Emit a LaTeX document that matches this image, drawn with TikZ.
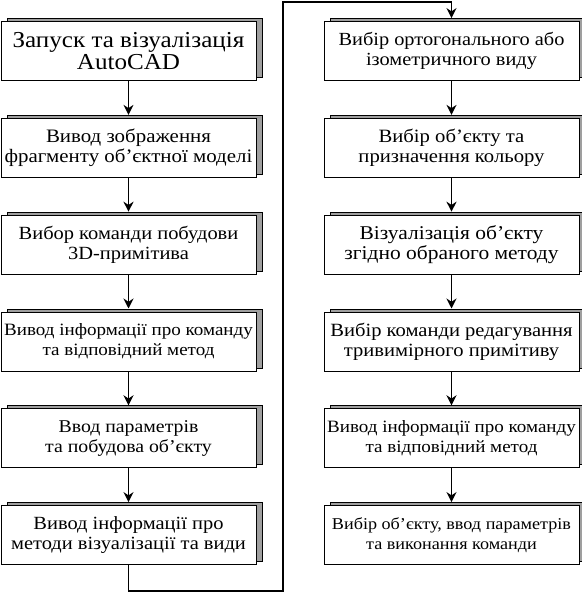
\documentclass[tikz,border=0pt]{standalone}
\usepackage{fontspec}
\setmainfont{Liberation Serif}[FakeStretch=1.1]
\usetikzlibrary{shadows,arrows.meta}
\begin{document}
\begin{tikzpicture}[x=1pt,y=-1pt,
  stepbox/.style={draw=black, line width=0.8pt, fill=white,
    minimum width=255pt, minimum height=59pt, align=center, inner sep=1pt,
    general shadow={draw=black, line width=0.6pt, fill=gray!75,
      shadow xshift=6pt, shadow yshift=3pt}},
  fs/.style={font=\fontsize{#1}{20}\selectfont},
  flow/.style={line width=1.8pt, -{Stealth[length=10pt,width=10pt]}, shorten >=3pt},
  ret/.style={line width=1.8pt}]
\useasboundingbox (0,0) rectangle (581,594);
\fill[white] (0,0) rectangle (581,594);
% left column
\node[stepbox,font=\fontsize{22.8}{21.5}\selectfont] (L1) at (128.5,51) {Запуск та візуалізація\\AutoCAD};
\node[stepbox,fs=19] (L2) at (128.5,147.8) {Вивод зображення\\фрагменту об’єктної моделі};
\node[stepbox,fs=18.6] (L3) at (128.5,244.6) {Вибор команди побудови\\3D-примітива};
\node[stepbox,fs=17.3] (L4) at (128.5,341.4) {Вивод інформації про команду\\та відповідний метод};
\node[stepbox,fs=18] (L5) at (128.5,438.2) {Ввод параметрів\\та побудова об’єкту};
\node[stepbox,fs=18.6] (L6) at (128.5,535) {Вивод інформації про\\методи візуалізації та види};
% right column
\node[stepbox,fs=18.5] (R1) at (451.5,51) {Вибір ортогонального або\\ізометричного виду};
\node[stepbox,fs=18.8] (R2) at (451.5,147.8) {Вибір об’єкту та\\призначення кольору};
\node[stepbox,fs=19.5] (R3) at (451.5,244.6) {Візуалізація об’єкту\\згідно обраного методу};
\node[stepbox,fs=18.7] (R4) at (451.5,341.4) {Вибір команди редагування\\тривимірного примітиву};
\node[stepbox,fs=17.3] (R5) at (451.5,438.2) {Вивод інформації про команду\\та відповідний метод};
\node[stepbox,fs=16.5] (R6) at (451.5,535) {Вибір об’єкту, ввод параметрів\\та виконання команди};
% arrows
\foreach \a/\b in {L1/L2,L2/L3,L3/L4,L4/L5,L5/L6,R1/R2,R2/R3,R3/R4,R4/R5,R5/R6}
  \draw[flow] (\a.south) -- (\b.north);
\coordinate (b1) at (128.5,591);
\coordinate (b2) at (283,591);
\coordinate (b3) at (283,2);
\coordinate (b4) at (451.5,2);
\draw[ret] (L6.south) -- (b1) -- (b2) -- (b3) -- (b4);
\draw[flow] (b4) -- (R1.north);
\end{tikzpicture}
\end{document}
